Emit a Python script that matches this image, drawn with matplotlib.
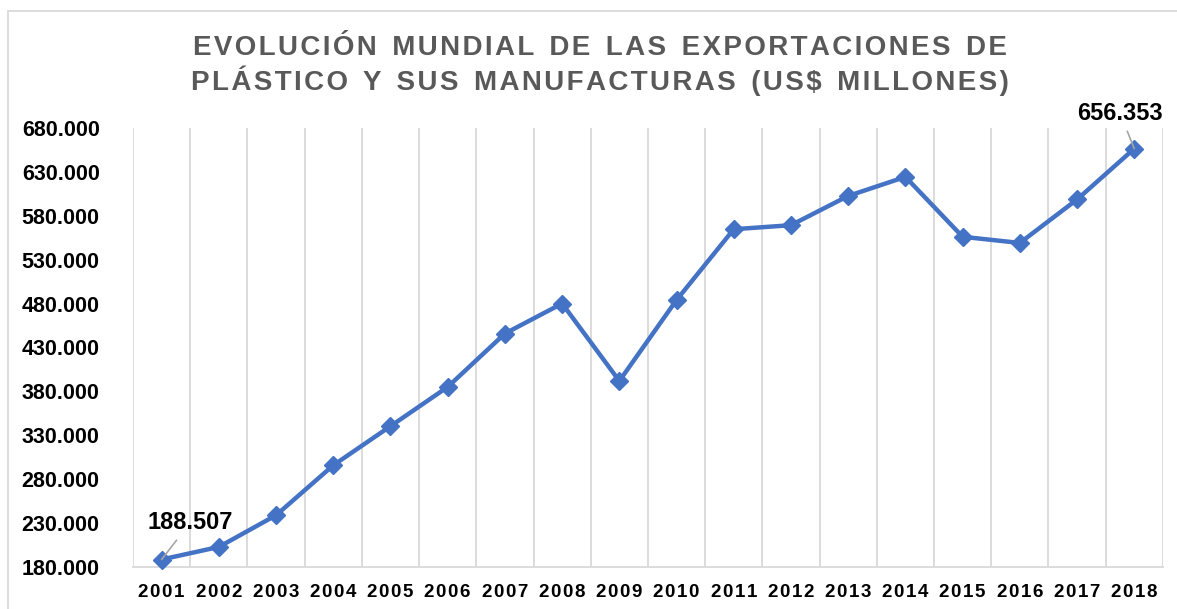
import matplotlib.pyplot as plt
from matplotlib.patches import Rectangle
from matplotlib.ticker import FuncFormatter

# years and world exports of plastics (US$ millions)
years = [2001, 2002, 2003, 2004, 2005, 2006, 2007, 2008, 2009,
         2010, 2011, 2012, 2013, 2014, 2015, 2016, 2017, 2018]
exports = [188507, 202800, 238900, 295800, 340300, 385000, 445800, 480000, 391800,
           484000, 564600, 569200, 602500, 624200, 556000, 549000, 598500, 656353]
y_ticks = list(range(180000, 680001, 50000))

title_lines = ["EVOLUCIÓN MUNDIAL DE LAS EXPORTACIONES DE",
               "PLÁSTICO Y SUS MANUFACTURAS (US$ MILLONES)"]

blue = "#4472C4"
grid_col = "#D9D9D9"
hs = "\u200a"  # hair space, for the letter-spaced look

plt.rcParams['font.family'] = ['Liberation Sans', 'DejaVu Sans']

fig = plt.figure(figsize=(11.77, 6.09), dpi=100)
ax = fig.add_axes([0.113, 0.069, 0.875, 0.721])

x = list(range(len(years)))
ax.plot(x, exports, color=blue, linewidth=3.2, marker="D", markersize=9,
        zorder=3, clip_on=False)

ax.set_xlim(-0.5, len(years) - 0.5)
ax.set_ylim(180000, 680000)
ax.set_yticks(y_ticks)
ax.yaxis.set_major_formatter(FuncFormatter(lambda v, p: f"{int(v):,}".replace(",", ".")))
ax.set_xticks(x)
ax.set_xticklabels([hs.join(str(y)) for y in years])
ax.set_xticks([i - 0.5 for i in range(len(years) + 1)], minor=True)

ax.grid(True, which="minor", axis="x", color=grid_col, linewidth=1.3)
ax.grid(False, which="major")
ax.tick_params(axis="both", which="both", length=0)
ax.tick_params(axis="y", labelsize=15.5, pad=24)
ax.tick_params(axis="x", labelsize=13.5, pad=12)
for lab in ax.get_yticklabels() + ax.get_xticklabels():
    lab.set_fontweight("bold")
    lab.set_color("black")

for s in ["top", "right", "left"]:
    ax.spines[s].set_visible(False)
ax.spines["bottom"].set_color(grid_col)
ax.spines["bottom"].set_linewidth(1.3)

# data labels for first and last point, with leader lines
ax.annotate(f"{exports[0]:,}".replace(",", "."), xy=(x[0], exports[0]),
            xytext=(x[0] + 0.5, exports[0] + 42000), ha="center", va="center",
            fontsize=17, fontweight="bold",
            arrowprops=dict(arrowstyle="-", color="#A6A6A6", lw=1.2,
                            shrinkA=3, shrinkB=0))
ax.annotate(f"{exports[-1]:,}".replace(",", "."), xy=(x[-1], exports[-1]),
            xytext=(x[-1] - 0.25, exports[-1] + 40500), ha="center", va="center",
            fontsize=17, fontweight="bold", annotation_clip=False,
            arrowprops=dict(arrowstyle="-", color="#A6A6A6", lw=1.2,
                            shrinkA=3, shrinkB=0))

fig.text(0.51, 0.922, hs.join(title_lines[0]).replace(hs + " " + hs, "  "),
         ha="center", va="center", fontsize=20, fontweight="bold", color="#595959")
fig.text(0.51, 0.867, hs.join(title_lines[1]).replace(hs + " " + hs, "  "),
         ha="center", va="center", fontsize=20, fontweight="bold", color="#595959")

# chart-area border
fig.patches.append(Rectangle((8 / 1177, -0.05), 1.1, 1 - 11 / 609 + 0.05,
                             transform=fig.transFigure, fill=False,
                             edgecolor=grid_col, linewidth=1.3))

fig.savefig("out.png", dpi=100)
